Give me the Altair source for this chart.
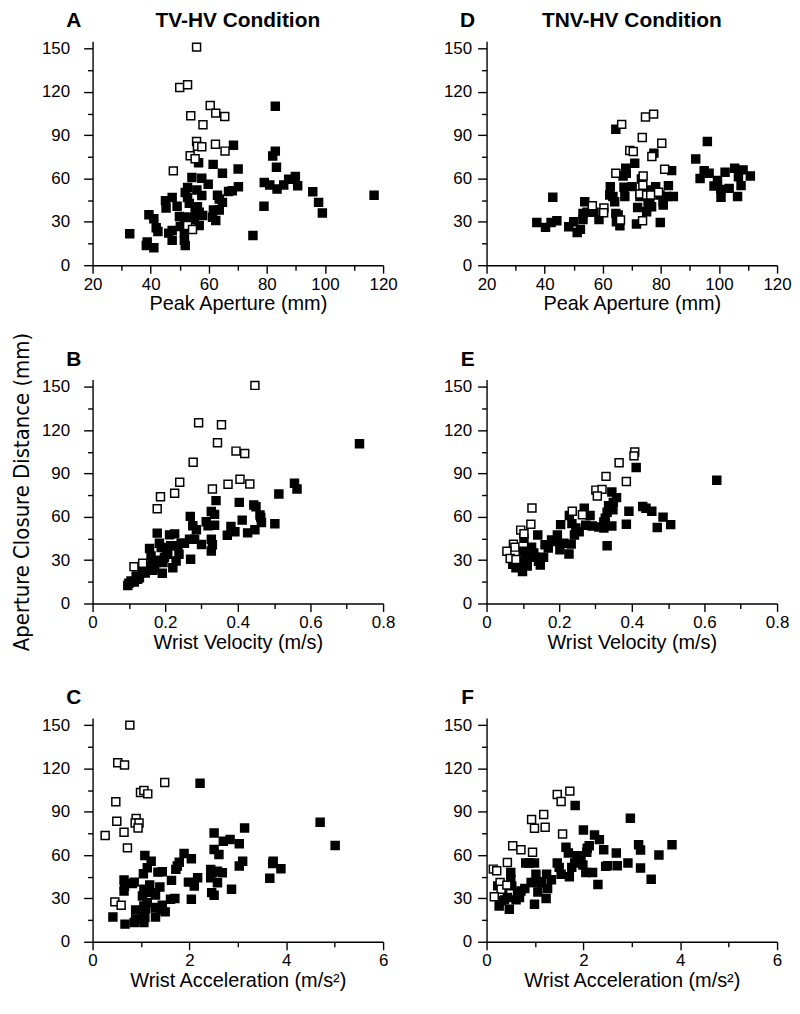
import altair as alt
import pandas as pd

# ---------------- data ----------------
# Panel A: TV-HV, Peak Aperture (mm) vs Aperture Closure Distance (mm)
A_open_x = [55.8, 50.0, 52.7, 60.5, 62.4, 65.5, 53.8, 58.0, 55.8, 56.1, 57.6, 62.3, 65.6, 53.6, 55.3, 47.8, 52.7, 54.4]
A_open_y = [151, 123, 125, 110.6, 105.3, 103, 103.5, 97.3, 85.6, 82.4, 82, 83.8, 79, 75.8, 73.7, 65.3, 27.5, 24.7]
A_fill_x = [68.5, 56.5, 61.5, 70.1, 64.7, 54.2, 57.6, 59.8, 70.2, 68.1, 66.8, 52.7, 55.9, 51.9, 57.6, 63.0, 63.6,
            47.4, 45.1, 52.7, 53.3, 64.7, 49.1, 45.3, 56.1, 55.3, 56.7, 61.6, 63.6, 49.9, 51.6, 53.3, 57.9, 55.0,
            61.3, 62.4, 39.4, 41.1, 50.2, 52.5, 56.7, 41.9, 42.5, 47.4, 46.2, 32.8, 51.6, 47.4, 51.6, 51.9, 38.8,
            38.5, 41.1, 75.2, 82.9, 82.9, 82.0, 83.3, 79.1, 81.0, 83.5, 85.8, 87.5, 89.8, 90.6, 95.8, 97.8, 99.1,
            79.0, 116.9]
A_fill_y = [83.1, 71, 69.8, 66.6, 63.7, 60.7, 60.2, 56.1, 54.3, 51.5, 51.1, 53.8, 52, 50.4, 48.3, 48.5, 45.8,
            46.9, 44.7, 46.9, 42.8, 43.5, 40.8, 39.6, 40.5, 37.8, 36.6, 38.2, 38.2, 33.7, 33.2, 33.2, 34.4, 31.4,
            33.2, 30.9, 35, 32.1, 26.8, 27.3, 27.5, 25.9, 23.4, 24, 22.2, 21.8, 22.2, 17.2, 17.2, 13.7, 16,
            13.7, 12.1, 20.6, 110, 79, 75.6, 67.8, 57.3, 55.6, 52.7, 55.6, 59.5, 61.4, 55, 50.8, 43.5, 36.2,
            40.8, 48.5]

# Panel D: TNV-HV, Peak Aperture
D_open_x = [74.7, 77.5, 66.5, 73.6, 80.3, 69.3, 70.5, 76.9, 64.5, 81.3, 73.9, 73.8, 72.8, 75.1, 76.5, 79.2, 56.4,
            60.4, 60.3, 66.1, 73.7]
D_open_y = [102.6, 104.6, 97.5, 88.4, 84.5, 79.4, 78.7, 75.2, 63.7, 66.4, 61.8, 55.3, 49.3, 48.6, 48.6, 50.5, 41.2,
            39.6, 36.3, 31.3, 30.8]
D_fill_x = [64.5, 77.6, 71.0, 67.9, 67.0, 68.1, 73.3, 83.7, 62.6, 62.4, 63.5, 64.1, 67.3, 67.6, 70.1, 72.8, 72.0,
            71.6, 75.6, 76.2, 75.6, 76.8, 75.1, 75.9, 78.2, 79.7, 80.8, 82.0, 82.6, 84.3, 80.8, 79.8, 64.5, 65.3,
            64.7, 65.9, 42.8, 37.3, 40.3, 42.2, 44.2, 48.3, 50.0, 51.2, 52.3, 53.2, 53.8, 54.6, 57.0, 58.7, 53.2,
            92.0, 96.0, 93.5, 94.9, 96.6, 99.5, 98.3, 100.6, 100.7, 103.5, 102.1, 105.4, 108.3, 106.7, 107.6,
            106.4, 110.8]
D_fill_y = [94.2, 77.6, 70.6, 67.1, 61.8, 63.7, 59.7, 65.5, 54.4, 48.6, 47.5, 44.0, 54.0, 47.5, 54.4, 47.5, 40.0,
            28.5, 52.0, 46.0, 43.0, 40.5, 37.0, 42.4, 54.4, 48.6, 44.0, 47.5, 55.1, 47.5, 41.7, 29.6, 35.9, 34.7,
            30.1, 27.3, 47.0, 29.6, 26.2, 29.6, 30.8, 26.6, 30.1, 22.7, 24.8, 31.7, 44.0, 36.6, 36.6, 31.7, 35.9,
            73.6, 85.6, 60.0, 65.5, 63.7, 58.6, 54.9, 52.5, 47.0, 53.2, 64.3, 67.1, 66.0, 61.3, 55.1,
            47.5, 61.8]

# Panel B: TV-HV, Wrist Velocity (m/s)
B_open_x = [0.447, 0.292, 0.355, 0.344, 0.395, 0.419, 0.277, 0.240, 0.226, 0.187, 0.178, 0.330, 0.373, 0.406,
            0.433, 0.114, 0.138]
B_open_y = [151, 125.2, 123.8, 111.3, 105.5, 103.8, 97.8, 83.9, 76.3, 73.9, 65.6, 79.3, 82.5, 86.0, 82.7, 25.5, 27.8]
B_fill_x = [0.735, 0.556, 0.563, 0.513, 0.340, 0.404, 0.444, 0.450, 0.461, 0.465, 0.463, 0.447, 0.427, 0.502,
            0.412, 0.381, 0.392, 0.371, 0.327, 0.336, 0.313, 0.318, 0.336, 0.269, 0.276, 0.286, 0.327, 0.330,
            0.327, 0.300, 0.267, 0.281, 0.253, 0.244, 0.235, 0.270, 0.178, 0.212, 0.226, 0.184, 0.189, 0.157,
            0.161, 0.166, 0.166, 0.203, 0.207, 0.198, 0.194, 0.238, 0.230, 0.221, 0.192, 0.175, 0.171, 0.152,
            0.138, 0.129, 0.106, 0.097, 0.115, 0.124, 0.100, 0.120, 0.145, 0.180, 0.215]
B_fill_y = [110.6, 83.2, 79.3, 75.8, 71.2, 70.0, 68.2, 67.0, 61.2, 56.1, 59.6, 51.0, 48.9, 55.2, 57.7, 53.3, 49.6,
            47.3, 63.7, 61.7, 56.6, 53.8, 54.2, 60.3, 53.8, 51.0, 44.5, 40.6, 36.4, 40.8, 44.5, 44.5, 41.7, 41.7,
            39.9, 30.6, 48.7, 47.5, 48.2, 41.7, 38.7, 38.0, 32.9, 28.3, 23.0, 37.6, 34.1, 31.8, 28.3, 34.1, 29.4,
            24.8, 20.9, 28.3, 24.8, 26.0, 22.5, 17.8, 15.5, 12.5, 14.8, 16.7, 14.0, 19.0, 21.0, 30.0, 40.0]

# Panel E: TNV-HV, Wrist Velocity
E_open_x = [0.408, 0.406, 0.365, 0.329, 0.385, 0.301, 0.318, 0.305, 0.236, 0.264, 0.125, 0.122, 0.094, 0.103,
            0.074, 0.078, 0.056, 0.065, 0.081]
E_open_y = [104.9, 102.2, 97.5, 88.0, 84.4, 78.5, 79.0, 74.4, 63.8, 61.4, 66.1, 54.8, 50.8, 48.3, 41.1, 39.0,
            36.1, 31.1, 30.5]
E_fill_x = [0.634, 0.412, 0.345, 0.358, 0.349, 0.336, 0.332, 0.327, 0.323, 0.339, 0.348, 0.392, 0.430, 0.439,
            0.455, 0.486, 0.470, 0.507, 0.385, 0.332, 0.269, 0.285, 0.273, 0.291, 0.309, 0.323, 0.345, 0.228,
            0.235, 0.246, 0.255, 0.242, 0.233, 0.204, 0.195, 0.193, 0.202, 0.213, 0.227, 0.179, 0.170, 0.161,
            0.141, 0.124, 0.130, 0.121, 0.134, 0.143, 0.157, 0.148, 0.103, 0.101, 0.108, 0.099, 0.088, 0.081,
            0.099, 0.112, 0.090, 0.072]
E_fill_y = [85.3, 94.1, 77.2, 73.3, 70.0, 67.7, 63.2, 59.1, 56.4, 65.4, 64.9, 63.8, 67.2, 65.9, 63.8, 59.8, 52.6,
            54.6, 54.8, 39.9, 65.9, 60.9, 54.1, 53.7, 53.0, 52.3, 53.7, 60.9, 55.3, 52.3, 49.6, 47.4, 41.1, 54.6,
            47.4, 42.9, 37.2, 41.7, 34.3, 44.0, 38.4, 40.6, 47.4, 39.0, 35.0, 32.0, 32.0, 29.3, 32.0, 26.6, 45.1,
            36.1, 32.7, 29.3, 25.9, 24.8, 22.1, 25.9, 28.2, 27.1]

# Panel C: TV-HV, Wrist Acceleration (m/s^2)
C_open_x = [0.77, 0.52, 0.66, 1.49, 0.99, 1.06, 1.14, 0.48, 0.50, 0.90, 0.88, 0.96, 0.94, 0.65, 0.26, 0.72, 0.46, 0.59]
C_open_y = [150, 124, 122.4, 110.3, 103.4, 104.7, 102.4, 96.9, 83.4, 85.4, 82.2, 82.2, 78.8, 75.8, 73.5, 65.0,
            27.6, 25.3]
C_fill_x = [2.22, 4.70, 5.01, 3.14, 2.51, 2.70, 2.84, 3.03, 2.51, 2.61, 1.89, 2.04, 1.75, 1.79, 1.72, 2.17, 1.98,
            2.10, 2.04, 2.44, 2.48, 2.58, 2.68, 2.44, 2.58, 2.46, 2.51, 2.87, 3.03, 3.10, 3.66, 3.73, 3.72, 3.89,
            1.08, 1.21, 1.13, 1.05, 1.35, 1.44, 1.39, 1.63, 1.70, 1.61, 1.18, 1.30, 1.20, 1.06, 1.03, 1.13, 1.06,
            1.44, 1.30, 1.41, 1.50, 1.30, 1.10, 0.89, 0.89, 1.06, 1.03, 0.86, 0.65, 0.66, 0.65, 0.82, 0.86, 0.42,
            0.67, 1.08]
C_fill_y = [109.8, 82.7, 66.6, 78.8, 75.3, 69.6, 70.8, 67.8, 63.9, 60.4, 61.1, 57.4, 52.4, 55.1, 50.1, 44.3, 41.3,
            38.6, 29.4, 50.1, 47.8, 48.9, 47.8, 44.3, 40.9, 34.0, 32.2, 36.3, 52.4, 55.8, 43.9, 55.8, 54.2, 50.5,
            59.7, 55.8, 51.2, 47.1, 48.2, 48.5, 37.9, 42.5, 29.9, 29.4, 39.3, 32.4, 34.0, 36.3, 31.7, 27.1, 24.8,
            25.3, 23.7, 22.1, 20.7, 17.2, 23.0, 22.0, 15.6, 13.3, 17.9, 13.3, 42.7, 38.6, 35.1, 40.4, 41.3, 17.2,
            12.2, 16.8]

# Panel F: TNV-HV, Wrist Acceleration
F_open_x = [1.46, 1.54, 1.72, 0.93, 0.99, 1.18, 1.21, 1.57, 0.54, 0.71, 0.95, 0.43, 0.14, 0.21, 0.28, 0.30, 0.42, 0.16]
F_open_y = [102, 97.1, 104.3, 84.6, 78.6, 88.1, 79.3, 74.6, 66.5, 63.7, 61.9, 54.9, 50.3, 49.1, 41, 36.4, 39.2, 31.1]
F_fill_x = [1.83, 2.97, 2.00, 2.23, 2.33, 1.64, 1.69, 1.88, 1.87, 2.08, 2.12, 2.07, 2.42, 2.68, 3.14, 3.18, 3.56,
            3.83, 2.92, 2.70, 2.46, 2.50, 3.18, 3.40, 2.30, 1.99, 2.05, 2.19, 1.95, 1.46, 1.50, 1.54, 1.71, 1.76,
            1.82, 0.81, 0.88, 0.99, 1.24, 1.34, 1.26, 1.23, 1.06, 0.99, 1.02, 0.99, 0.92, 1.09, 1.14, 0.79, 0.71,
            0.64, 0.68, 0.61, 0.50, 0.50, 0.52, 0.43, 0.37, 0.26, 0.47, 0.30, 0.23, 0.33]
F_fill_y = [94.3, 85.5, 77.4, 73.9, 70.7, 65.4, 61.4, 59.6, 56.8, 64.7, 66.5, 61.9, 63.7, 61.4, 67.2, 63.5, 60.0,
            67.2, 54.5, 52.6, 52.2, 52.6, 51.0, 43.3, 39.6, 53.1, 48.0, 48.0, 56.1, 54.5, 51.5, 46.8, 45.0, 51.5,
            54.5, 54.5, 54.5, 54.5, 46.8, 42.9, 36.9, 29.9, 34.5, 26.0, 46.8, 41.0, 41.0, 41.5, 40.6, 36.9, 35.2,
            34.1, 30.6, 29.0, 48.0, 43.3, 38.7, 30.6, 29.0, 24.8, 22.5, 28.3, 38.7, 36.4]

# tick positions (labels on every second tick)
Y_TICKS = [0, 15, 30, 45, 60, 75, 90, 105, 120, 135, 150]
APERTURE_TICKS = [20, 30, 40, 50, 60, 70, 80, 90, 100, 110, 120]
VELOCITY_TICKS = [0, 0.1, 0.2, 0.3, 0.4, 0.5, 0.6, 0.7, 0.8]
ACCEL_TICKS = [0, 1, 2, 3, 4, 5, 6]

LETTERS = ["A", "D", "B", "E", "C", "F"]
CONDITIONS = ["TV-HV Condition", "TNV-HV Condition"]
X_TITLES = ["Peak Aperture (mm)", "Wrist Velocity (m/s)", "Wrist Acceleration (m/s\u00b2)"]
Y_TITLE = "Aperture Closure Distance (mm)"

# ---------------- styling ----------------
FONT = "Liberation Sans"
NARROW = "Liberation Sans Narrow, DejaVu Sans Condensed, Liberation Sans"
W, H = 292, 225


def make_df(ox, oy, fx, fy):
    a = pd.DataFrame({"x": fx, "y": fy, "kind": "filled"})
    b = pd.DataFrame({"x": ox, "y": oy, "kind": "open"})
    return pd.concat([a, b], ignore_index=True)


def panel(df, xticks, xtest, xtitle, letter, cond=None, ytitle=None, ylabpad=14):
    xaxis = alt.Axis(
        values=xticks, title=xtitle,
        labelExpr=f"({xtest}) ? format(datum.value, '~g') : ''",
        tickSize={"condition": {"test": xtest, "value": 8}, "value": 5},
        labelFlush=False, labelOverlap=False, grid=False,
        domainColor="black", tickColor="black", labelColor="black", titleColor="black",
        domainWidth=1.4, tickWidth=1.4,
        labelFont=FONT, labelFontSize=17, labelPadding=3,
        titleFont=FONT, titleFontSize=20, titleFontWeight="normal", titlePadding=2,
    )
    ytest = "datum.value % 30 === 0"
    yaxis_kwargs = dict(
        values=Y_TICKS,
        labelExpr=f"({ytest}) ? datum.label : ''",
        tickSize={"condition": {"test": ytest, "value": 9}, "value": 5},
        labelFlush=False, labelOverlap=False, grid=False,
        domainColor="black", tickColor="black", labelColor="black", titleColor="black",
        domainWidth=1.4, tickWidth=1.4,
        labelFont=FONT, labelFontSize=17, labelPadding=ylabpad,
    )
    if ytitle is not None:
        yaxis = alt.Axis(title=ytitle, titleFont=NARROW, titleFontSize=22, titleFontWeight="normal",
                         titlePadding=8, **yaxis_kwargs)
    else:
        yaxis = alt.Axis(title=None, **yaxis_kwargs)

    pts = alt.Chart(df).mark_square(size=64, stroke="black", strokeWidth=1.5, opacity=1).encode(
        x=alt.X("x:Q", scale=alt.Scale(domain=[xticks[0], xticks[-1]], nice=False, zero=False), axis=xaxis),
        y=alt.Y("y:Q", scale=alt.Scale(domain=[0, 155], nice=False), axis=yaxis),
        fill=alt.Fill("kind:N", scale=alt.Scale(domain=["filled", "open"], range=["black", "white"]), legend=None),
    )
    lt = alt.Chart(pd.DataFrame({"t": [letter]})).mark_text(
        font=FONT, fontSize=21, fontWeight="bold", align="center", baseline="middle", color="black"
    ).encode(text="t:N", x=alt.value(-19), y=alt.value(-20))
    layers = [pts, lt]
    if cond is not None:
        ct = alt.Chart(pd.DataFrame({"t": [cond]})).mark_text(
            font=FONT, fontSize=21, fontWeight="bold", align="center", baseline="middle", color="black"
        ).encode(text="t:N", x=alt.value(W / 2), y=alt.value(-20))
        layers.append(ct)
    return alt.layer(*layers).properties(width=W, height=H)


ap_test = "datum.value % 20 === 0"
ve_test = "round(datum.value * 10) % 2 === 0"
ac_test = "datum.value % 2 === 0"

pA = panel(make_df(A_open_x, A_open_y, A_fill_x, A_fill_y), APERTURE_TICKS, ap_test, X_TITLES[0], LETTERS[0],
           cond=CONDITIONS[0], ytitle=" ", ylabpad=14)
pD = panel(make_df(D_open_x, D_open_y, D_fill_x, D_fill_y), APERTURE_TICKS, ap_test, X_TITLES[0], LETTERS[1],
           cond=CONDITIONS[1], ylabpad=6)
pB = panel(make_df(B_open_x, B_open_y, B_fill_x, B_fill_y), VELOCITY_TICKS, ve_test, X_TITLES[1], LETTERS[2],
           ytitle=Y_TITLE, ylabpad=14)
pE = panel(make_df(E_open_x, E_open_y, E_fill_x, E_fill_y), VELOCITY_TICKS, ve_test, X_TITLES[1], LETTERS[3],
           ylabpad=6)
pC = panel(make_df(C_open_x, C_open_y, C_fill_x, C_fill_y), ACCEL_TICKS, ac_test, X_TITLES[2], LETTERS[4],
           ytitle=" ", ylabpad=14)
pF = panel(make_df(F_open_x, F_open_y, F_fill_x, F_fill_y), ACCEL_TICKS, ac_test, X_TITLES[2], LETTERS[5],
           ylabpad=6)

chart = alt.concat(pA, pD, pB, pE, pC, pF, columns=2, bounds="flush",
                   spacing={"row": 115, "column": 104}).properties(
    padding={"left": 2, "top": 0, "right": 0, "bottom": 0}
).configure_view(stroke=None)

chart.save("out.html", embed_options={"renderer": "svg", "actions": False})
